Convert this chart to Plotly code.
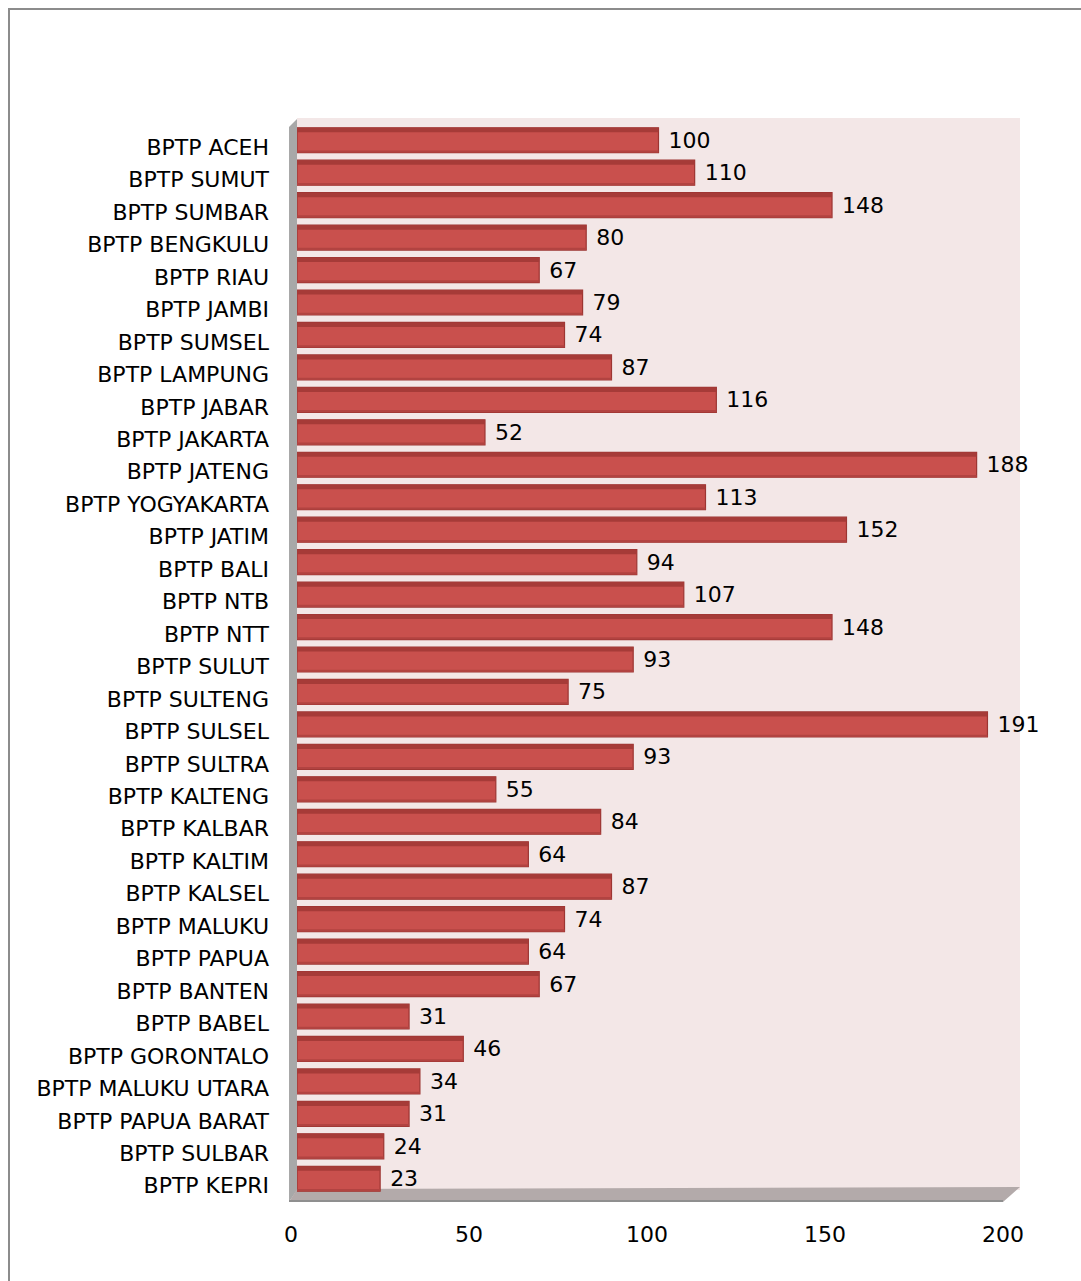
import plotly.graph_objects as go

categories = [
    "BPTP ACEH", "BPTP SUMUT", "BPTP SUMBAR", "BPTP BENGKULU", "BPTP RIAU",
    "BPTP JAMBI", "BPTP SUMSEL", "BPTP LAMPUNG", "BPTP JABAR", "BPTP JAKARTA",
    "BPTP JATENG", "BPTP YOGYAKARTA", "BPTP JATIM", "BPTP BALI", "BPTP NTB",
    "BPTP NTT", "BPTP SULUT", "BPTP SULTENG", "BPTP SULSEL", "BPTP SULTRA",
    "BPTP KALTENG", "BPTP KALBAR", "BPTP KALTIM", "BPTP KALSEL", "BPTP MALUKU",
    "BPTP PAPUA", "BPTP BANTEN", "BPTP BABEL", "BPTP GORONTALO",
    "BPTP MALUKU UTARA", "BPTP PAPUA BARAT", "BPTP SULBAR", "BPTP KEPRI",
]
values = [100, 110, 148, 80, 67, 79, 74, 87, 116, 52,
          188, 113, 152, 94, 107, 148, 93, 75, 191, 93,
          55, 84, 64, 87, 74, 64, 67, 31, 46, 34,
          31, 24, 23]
x_ticks = [0, 50, 100, 150, 200]

W, H = 1081, 1281


def px(x):
    return x / W


def py(y):
    return 1 - y / H


FONT = "DejaVu Sans"
FS = 22
BW = 0.77

fig = go.Figure()

fig.add_trace(go.Bar(
    x=values, y=categories, orientation="h",
    width=BW, offset=-BW / 2,
    marker=dict(color="#c9504d", line=dict(color="#9c3532", width=1.2)),
    texttemplate="\u00a0%{x}", textposition="outside",
    textfont=dict(family=FONT, size=FS, color="#000000"),
    cliponaxis=False, hoverinfo="skip",
))
# darker top edge of each bar (3-D shading)
fig.add_trace(go.Bar(
    x=values, y=categories, orientation="h",
    width=0.14, offset=-BW / 2,
    marker=dict(color="#a63b38", line=dict(width=0)),
    hoverinfo="skip", textposition="none",
))
# slightly darker lower edge
fig.add_trace(go.Bar(
    x=values, y=categories, orientation="h",
    width=0.07, offset=BW / 2 - 0.07,
    marker=dict(color="#b24341", line=dict(width=0)),
    hoverinfo="skip", textposition="none",
))
# invisible trace carrying the front (floor) scale for the tick labels
fig.add_trace(go.Scatter(
    x=[x_ticks[0], x_ticks[-1]], y=[categories[0], categories[0]],
    xaxis="x2", mode="markers", marker=dict(opacity=0), hoverinfo="skip",
    showlegend=False,
))

shapes = []
# back wall
shapes.append(dict(type="rect", xref="paper", yref="paper",
                   x0=px(297), x1=px(1020), y0=py(1190), y1=py(118),
                   fillcolor="#f3e7e7", line=dict(width=0), layer="below"))
# left wall
shapes.append(dict(type="path", xref="paper", yref="paper",
                   path=f"M {px(289)},{py(1202)} L {px(289)},{py(127)} L {px(297)},{py(119)} L {px(297)},{py(1190)} Z",
                   fillcolor="#a8a8a8", line=dict(width=0), layer="below"))
# floor
shapes.append(dict(type="path", xref="paper", yref="paper",
                   path=f"M {px(289)},{py(1202)} L {px(1003)},{py(1202)} L {px(1020)},{py(1187)} L {px(297)},{py(1189)} Z",
                   fillcolor="#b3aaaa", line=dict(width=0), layer="below"))
shapes.append(dict(type="line", xref="paper", yref="paper",
                   x0=px(289), x1=px(1003), y0=py(1201), y1=py(1201),
                   line=dict(color="#8f8f8f", width=2), layer="below"))
# outer border (left and top)
shapes.append(dict(type="line", xref="paper", yref="paper",
                   x0=px(9), x1=px(9), y0=0, y1=py(8),
                   line=dict(color="#8c8c8c", width=2)))
shapes.append(dict(type="line", xref="paper", yref="paper",
                   x0=px(8), x1=1, y0=py(9), y1=py(9),
                   line=dict(color="#8c8c8c", width=2)))

yb_top, yb_bot = 124.0, 1195.0
n = len(categories)

fig.update_layout(
    width=W, height=H,
    margin=dict(l=0, r=0, t=0, b=0),
    paper_bgcolor="#ffffff",
    plot_bgcolor="rgba(0,0,0,0)",
    showlegend=False,
    barmode="overlay",
    shapes=shapes,
    font=dict(family=FONT, size=FS, color="#000000"),
    xaxis=dict(domain=[px(297), px(1020)], range=[0, 200], showgrid=False,
               zeroline=False, showticklabels=False, showline=False,
               anchor="y", automargin=False),
    xaxis2=dict(domain=[px(291), px(1003)], range=[0, 200],
                side="bottom", anchor="y", tickvals=x_ticks, showgrid=False,
                zeroline=False, showline=False, ticks="",
                ticklabelstandoff=24, automargin=False,
                tickfont=dict(family=FONT, size=FS, color="#000000")),
    yaxis=dict(domain=[py(yb_bot), py(yb_top)], range=[n - 0.5, -0.5],
               showgrid=False, zeroline=False, showline=False, ticks="",
               ticklabelstandoff=27, ticklabelshift=-7, automargin=False,
               tickfont=dict(family=FONT, size=FS, color="#000000")),
)

fig.write_html("out.html")
